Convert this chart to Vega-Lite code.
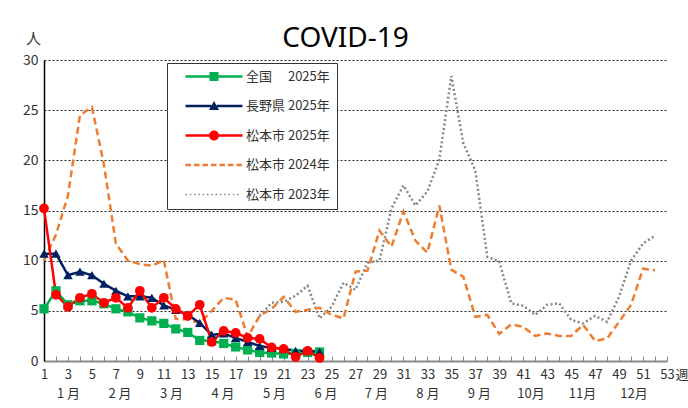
{
  "$schema": "https://vega.github.io/schema/vega-lite/v6.json",
  "width": 623,
  "height": 301,
  "autosize": {"type": "none"},
  "padding": {"left": 44, "top": 60, "right": 21, "bottom": 47},
  "background": "white",
  "title": {"text": "COVID-19", "fontSize": 28, "font": "Noto Sans", "fontWeight": "normal", "color": "#000", "anchor": "middle", "baseline": "alphabetic", "offset": 14, "dy": 58, "dx": -10},
  "datasets": {
    "covid": [
      {"series": "松本市 2023年", "week": 19, "value": 4.5},
      {"series": "松本市 2023年", "week": 20, "value": 5.8},
      {"series": "松本市 2023年", "week": 21, "value": 5.9},
      {"series": "松本市 2023年", "week": 22, "value": 6.5},
      {"series": "松本市 2023年", "week": 23, "value": 7.5},
      {"series": "松本市 2023年", "week": 24, "value": 4.25},
      {"series": "松本市 2023年", "week": 25, "value": 5.4},
      {"series": "松本市 2023年", "week": 26, "value": 7.8},
      {"series": "松本市 2023年", "week": 27, "value": 7.1},
      {"series": "松本市 2023年", "week": 28, "value": 9.8},
      {"series": "松本市 2023年", "week": 29, "value": 10.0},
      {"series": "松本市 2023年", "week": 30, "value": 15.2},
      {"series": "松本市 2023年", "week": 31, "value": 17.5},
      {"series": "松本市 2023年", "week": 32, "value": 15.5},
      {"series": "松本市 2023年", "week": 33, "value": 16.9},
      {"series": "松本市 2023年", "week": 34, "value": 20.1},
      {"series": "松本市 2023年", "week": 35, "value": 28.4},
      {"series": "松本市 2023年", "week": 36, "value": 21.7},
      {"series": "松本市 2023年", "week": 37, "value": 19.0},
      {"series": "松本市 2023年", "week": 38, "value": 10.4},
      {"series": "松本市 2023年", "week": 39, "value": 9.9},
      {"series": "松本市 2023年", "week": 40, "value": 5.75},
      {"series": "松本市 2023年", "week": 41, "value": 5.5},
      {"series": "松本市 2023年", "week": 42, "value": 4.6},
      {"series": "松本市 2023年", "week": 43, "value": 5.6},
      {"series": "松本市 2023年", "week": 44, "value": 5.75},
      {"series": "松本市 2023年", "week": 45, "value": 4.1},
      {"series": "松本市 2023年", "week": 46, "value": 3.75},
      {"series": "松本市 2023年", "week": 47, "value": 4.5},
      {"series": "松本市 2023年", "week": 48, "value": 3.9},
      {"series": "松本市 2023年", "week": 49, "value": 6.4},
      {"series": "松本市 2023年", "week": 50, "value": 10.0},
      {"series": "松本市 2023年", "week": 51, "value": 11.7},
      {"series": "松本市 2023年", "week": 52, "value": 12.5},
      {"series": "松本市 2024年", "week": 1, "value": 10.0},
      {"series": "松本市 2024年", "week": 2, "value": 12.6},
      {"series": "松本市 2024年", "week": 3, "value": 16.5},
      {"series": "松本市 2024年", "week": 4, "value": 24.5},
      {"series": "松本市 2024年", "week": 5, "value": 25.3},
      {"series": "松本市 2024年", "week": 6, "value": 19.6},
      {"series": "松本市 2024年", "week": 7, "value": 11.7},
      {"series": "松本市 2024年", "week": 8, "value": 10.0},
      {"series": "松本市 2024年", "week": 9, "value": 9.65},
      {"series": "松本市 2024年", "week": 10, "value": 9.5},
      {"series": "松本市 2024年", "week": 11, "value": 10.05},
      {"series": "松本市 2024年", "week": 12, "value": 4.2},
      {"series": "松本市 2024年", "week": 13, "value": 4.15},
      {"series": "松本市 2024年", "week": 14, "value": 3.75},
      {"series": "松本市 2024年", "week": 15, "value": 5.0},
      {"series": "松本市 2024年", "week": 16, "value": 6.3},
      {"series": "松本市 2024年", "week": 17, "value": 6.1},
      {"series": "松本市 2024年", "week": 18, "value": 2.4},
      {"series": "松本市 2024年", "week": 19, "value": 4.5},
      {"series": "松本市 2024年", "week": 20, "value": 5.2},
      {"series": "松本市 2024年", "week": 21, "value": 6.4},
      {"series": "松本市 2024年", "week": 22, "value": 4.9},
      {"series": "松本市 2024年", "week": 23, "value": 5.1},
      {"series": "松本市 2024年", "week": 24, "value": 5.3},
      {"series": "松本市 2024年", "week": 25, "value": 4.6},
      {"series": "松本市 2024年", "week": 26, "value": 4.25},
      {"series": "松本市 2024年", "week": 27, "value": 8.9},
      {"series": "松本市 2024年", "week": 28, "value": 9.0},
      {"series": "松本市 2024年", "week": 29, "value": 13.0},
      {"series": "松本市 2024年", "week": 30, "value": 11.4},
      {"series": "松本市 2024年", "week": 31, "value": 14.9},
      {"series": "松本市 2024年", "week": 32, "value": 12.0},
      {"series": "松本市 2024年", "week": 33, "value": 10.8},
      {"series": "松本市 2024年", "week": 34, "value": 15.5},
      {"series": "松本市 2024年", "week": 35, "value": 9.1},
      {"series": "松本市 2024年", "week": 36, "value": 8.4},
      {"series": "松本市 2024年", "week": 37, "value": 4.4},
      {"series": "松本市 2024年", "week": 38, "value": 4.6},
      {"series": "松本市 2024年", "week": 39, "value": 2.7},
      {"series": "松本市 2024年", "week": 40, "value": 3.65},
      {"series": "松本市 2024年", "week": 41, "value": 3.4},
      {"series": "松本市 2024年", "week": 42, "value": 2.5},
      {"series": "松本市 2024年", "week": 43, "value": 2.75},
      {"series": "松本市 2024年", "week": 44, "value": 2.5},
      {"series": "松本市 2024年", "week": 45, "value": 2.5},
      {"series": "松本市 2024年", "week": 46, "value": 3.6},
      {"series": "松本市 2024年", "week": 47, "value": 2.0},
      {"series": "松本市 2024年", "week": 48, "value": 2.25},
      {"series": "松本市 2024年", "week": 49, "value": 3.9},
      {"series": "松本市 2024年", "week": 50, "value": 5.6},
      {"series": "松本市 2024年", "week": 51, "value": 9.2},
      {"series": "松本市 2024年", "week": 52, "value": 9.05},
      {"series": "全国　 2025年", "week": 1, "value": 5.2},
      {"series": "全国　 2025年", "week": 2, "value": 7.0},
      {"series": "全国　 2025年", "week": 3, "value": 5.6},
      {"series": "全国　 2025年", "week": 4, "value": 6.0},
      {"series": "全国　 2025年", "week": 5, "value": 6.0},
      {"series": "全国　 2025年", "week": 6, "value": 5.7},
      {"series": "全国　 2025年", "week": 7, "value": 5.2},
      {"series": "全国　 2025年", "week": 8, "value": 4.9},
      {"series": "全国　 2025年", "week": 9, "value": 4.3},
      {"series": "全国　 2025年", "week": 10, "value": 4.0},
      {"series": "全国　 2025年", "week": 11, "value": 3.75},
      {"series": "全国　 2025年", "week": 12, "value": 3.2},
      {"series": "全国　 2025年", "week": 13, "value": 2.85},
      {"series": "全国　 2025年", "week": 14, "value": 2.05},
      {"series": "全国　 2025年", "week": 15, "value": 2.0},
      {"series": "全国　 2025年", "week": 16, "value": 1.75},
      {"series": "全国　 2025年", "week": 17, "value": 1.4},
      {"series": "全国　 2025年", "week": 18, "value": 1.1},
      {"series": "全国　 2025年", "week": 19, "value": 0.85},
      {"series": "全国　 2025年", "week": 20, "value": 0.8},
      {"series": "全国　 2025年", "week": 21, "value": 0.7},
      {"series": "全国　 2025年", "week": 22, "value": 0.75},
      {"series": "全国　 2025年", "week": 23, "value": 0.85},
      {"series": "全国　 2025年", "week": 24, "value": 0.9},
      {"series": "長野県 2025年", "week": 1, "value": 10.7},
      {"series": "長野県 2025年", "week": 2, "value": 10.7},
      {"series": "長野県 2025年", "week": 3, "value": 8.55},
      {"series": "長野県 2025年", "week": 4, "value": 8.9},
      {"series": "長野県 2025年", "week": 5, "value": 8.55},
      {"series": "長野県 2025年", "week": 6, "value": 7.7},
      {"series": "長野県 2025年", "week": 7, "value": 7.0},
      {"series": "長野県 2025年", "week": 8, "value": 6.45},
      {"series": "長野県 2025年", "week": 9, "value": 6.45},
      {"series": "長野県 2025年", "week": 10, "value": 6.3},
      {"series": "長野県 2025年", "week": 11, "value": 5.55},
      {"series": "長野県 2025年", "week": 12, "value": 5.1},
      {"series": "長野県 2025年", "week": 13, "value": 4.6},
      {"series": "長野県 2025年", "week": 14, "value": 3.8},
      {"series": "長野県 2025年", "week": 15, "value": 2.6},
      {"series": "長野県 2025年", "week": 16, "value": 2.75},
      {"series": "長野県 2025年", "week": 17, "value": 2.3},
      {"series": "長野県 2025年", "week": 18, "value": 1.9},
      {"series": "長野県 2025年", "week": 19, "value": 1.5},
      {"series": "長野県 2025年", "week": 20, "value": 1.3},
      {"series": "長野県 2025年", "week": 21, "value": 1.25},
      {"series": "長野県 2025年", "week": 22, "value": 1.0},
      {"series": "長野県 2025年", "week": 23, "value": 1.05},
      {"series": "長野県 2025年", "week": 24, "value": 0.9},
      {"series": "松本市 2025年", "week": 1, "value": 15.2},
      {"series": "松本市 2025年", "week": 2, "value": 6.6},
      {"series": "松本市 2025年", "week": 3, "value": 5.4},
      {"series": "松本市 2025年", "week": 4, "value": 6.3},
      {"series": "松本市 2025年", "week": 5, "value": 6.7},
      {"series": "松本市 2025年", "week": 6, "value": 5.8},
      {"series": "松本市 2025年", "week": 7, "value": 6.3},
      {"series": "松本市 2025年", "week": 8, "value": 5.3},
      {"series": "松本市 2025年", "week": 9, "value": 7.0},
      {"series": "松本市 2025年", "week": 10, "value": 5.3},
      {"series": "松本市 2025年", "week": 11, "value": 6.3},
      {"series": "松本市 2025年", "week": 12, "value": 5.2},
      {"series": "松本市 2025年", "week": 13, "value": 4.5},
      {"series": "松本市 2025年", "week": 14, "value": 5.6},
      {"series": "松本市 2025年", "week": 15, "value": 1.9},
      {"series": "松本市 2025年", "week": 16, "value": 3.0},
      {"series": "松本市 2025年", "week": 17, "value": 2.8},
      {"series": "松本市 2025年", "week": 18, "value": 2.3},
      {"series": "松本市 2025年", "week": 19, "value": 2.2},
      {"series": "松本市 2025年", "week": 20, "value": 1.35},
      {"series": "松本市 2025年", "week": 21, "value": 1.2},
      {"series": "松本市 2025年", "week": 22, "value": 0.4},
      {"series": "松本市 2025年", "week": 23, "value": 1.0},
      {"series": "松本市 2025年", "week": 24, "value": 0.3}
    ]
  },
  "data": {"name": "covid"},
  "layer": [
    {
      "mark": {"type": "line", "strokeWidth": 2.5, "strokeCap": "butt"},
      "encoding": {
        "x": {
          "field": "week", "type": "quantitative",
          "scale": {"domain": [1, 53], "nice": false, "zero": false},
          "axis": {
            "orient": "bottom",
            "values": [1,2,3,4,5,6,7,8,9,10,11,12,13,14,15,16,17,18,19,20,21,22,23,24,25,26,27,28,29,30,31,32,33,34,35,36,37,38,39,40,41,42,43,44,45,46,47,48,49,50,51,52,53],
            "labelExpr": "datum.value % 2 == 1 ? datum.label : ''",
            "grid": false,
            "domainColor": "#888888", "domainWidth": 2,
            "tickColor": "#888888", "tickSize": -5, "tickWidth": 1,
            "labelPadding": 12, "labelFontSize": 13, "labelColor": "#333333",
            "labelOverlap": false, "labelFlush": false,
            "title": "週", "titleX": 631, "titleY": 7, "titleAlign": "left", "titleBaseline": "top",
            "titleFontSize": 13, "titleFontWeight": "normal", "titleColor": "#333333"
          }
        },
        "y": {
          "field": "value", "type": "quantitative",
          "scale": {"domain": [0, 30], "nice": false},
          "axis": {
            "values": [0, 5, 10, 15, 20, 25, 30],
            "grid": true, "gridDash": [2, 2], "gridColor": "#000000", "gridWidth": 1, "gridOpacity": 0.85,
            "domainColor": "#000000", "domainWidth": 1.5,
            "ticks": false, "labelPadding": 6, "labelFontSize": 14, "labelColor": "#333333",
            "title": "人", "titleAngle": 0, "titleX": -11, "titleY": -17,
            "titleAlign": "center", "titleBaseline": "alphabetic",
            "titleFontSize": 15, "titleFontWeight": "normal", "titleColor": "#333333"
          }
        },
        "color": {
          "field": "series", "type": "nominal",
          "scale": {
            "domain": ["全国　 2025年", "長野県 2025年", "松本市 2025年", "松本市 2024年", "松本市 2023年"],
            "range": ["#00B050", "#002060", "#FF0000", "#ED7D31", "#888888"]
          },
          "legend": null
        },
        "strokeDash": {
          "field": "series", "type": "nominal",
          "scale": {
            "domain": ["全国　 2025年", "長野県 2025年", "松本市 2025年", "松本市 2024年", "松本市 2023年"],
            "range": [[1, 0], [1, 0], [1, 0], [7, 4], [2, 2.5]]
          },
          "legend": null
        }
      }
    },
    {
      "transform": [{"filter": {"field": "series", "oneOf": ["全国　 2025年", "長野県 2025年", "松本市 2025年"]}}],
      "mark": {"type": "point", "filled": true, "opacity": 1},
      "encoding": {
        "x": {"field": "week", "type": "quantitative", "axis": null},
        "y": {"field": "value", "type": "quantitative"},
        "color": {"field": "series", "type": "nominal", "legend": null},
        "shape": {
          "field": "series", "type": "nominal",
          "scale": {"domain": ["全国　 2025年", "長野県 2025年", "松本市 2025年"], "range": ["square", "triangle-up", "circle"]},
          "legend": null
        },
        "size": {
          "field": "series", "type": "ordinal",
          "scale": {"domain": ["全国　 2025年", "長野県 2025年", "松本市 2025年"], "range": [85, 95, 130]},
          "legend": null
        }
      }
    },
    {
      "mark": {"type": "point", "filled": true, "opacity": 0},
      "encoding": {
        "x": {
          "field": "week", "type": "quantitative",
          "axis": {
            "orient": "bottom",
            "values": [3, 7.3, 11.6, 15.9, 20.2, 24.5, 28.7, 33, 37.3, 41.6, 45.9, 50.2],
            "labelExpr": "(round((datum.value - 3) / 4.3) + 1) + (round((datum.value - 3) / 4.3) < 9 ? ' 月' : '月')",
            "domain": false, "ticks": false, "grid": false, "title": null,
            "labelPadding": 26, "labelFontSize": 13, "labelColor": "#333333",
            "labelOverlap": false, "labelFlush": false
          }
        },
        "y": {"field": "value", "type": "quantitative"},
        "color": {
          "field": "series", "type": "nominal",
          "legend": {
            "orient": "none", "legendX": 123, "legendY": 3, "title": null,
            "padding": 7, "rowPadding": 15.5, "symbolOffset": 33.5, "labelOffset": 25.5,
            "symbolSize": 100, "symbolStrokeWidth": 0, "symbolOpacity": 1,
            "labelFontSize": 13, "labelColor": "#333333", "labelLimit": 300,
            "strokeColor": "#333333", "fillColor": "white",
            "encode": {"symbols": {"update": {"opacity": {"value": 1}, "fillOpacity": {"value": 1}}}}
          }
        },
        "shape": {
          "field": "series", "type": "nominal",
          "scale": {
            "domain": ["全国　 2025年", "長野県 2025年", "松本市 2025年", "松本市 2024年", "松本市 2023年"],
            "range": [
              "M-5.7,-0.25H-0.9V0.25H-5.7Z M0.9,-0.25H5.7V0.25H0.9Z M-0.9,-0.9H0.9V0.9H-0.9Z",
              "M-5.7,-0.25H-0.55V0.25H-5.7Z M0.55,-0.25H5.7V0.25H0.55Z M0,-1L1,0.8H-1Z",
              "M-5.7,-0.25H-1V0.25H-5.7Z M1,-0.25H5.7V0.25H1Z M-1,0A1,1,0,1,1,1,0A1,1,0,1,1,-1,0Z",
              "M-5.7,-0.25H-4.6V0.25H-5.7Z M-4,-0.25H-2.9V0.25H-4Z M-2.3,-0.25H-1.2V0.25H-2.3Z M-0.6,-0.25H0.5V0.25H-0.6Z M1.1,-0.25H2.2V0.25H1.1Z M2.8,-0.25H3.9V0.25H2.8Z M4.5,-0.25H5.6V0.25H4.5Z",
              "M-5.7,-0.15H-5.4V0.15H-5.7Z M-4.84,-0.15H-4.54V0.15H-4.84Z M-3.98,-0.15H-3.68V0.15H-3.98Z M-3.12,-0.15H-2.82V0.15H-3.12Z M-2.26,-0.15H-1.96V0.15H-2.26Z M-1.4,-0.15H-1.1V0.15H-1.4Z M-0.54,-0.15H-0.24V0.15H-0.54Z M0.32,-0.15H0.62V0.15H0.32Z M1.18,-0.15H1.48V0.15H1.18Z M2.04,-0.15H2.34V0.15H2.04Z M2.9,-0.15H3.2V0.15H2.9Z M3.76,-0.15H4.06V0.15H3.76Z M4.62,-0.15H4.92V0.15H4.62Z"
            ]
          },
          "legend": {
            "orient": "none", "legendX": 123, "legendY": 3, "title": null,
            "padding": 7, "rowPadding": 15.5, "symbolOffset": 33.5, "labelOffset": 25.5,
            "symbolSize": 100, "symbolStrokeWidth": 0, "symbolOpacity": 1,
            "labelFontSize": 13, "labelColor": "#333333", "labelLimit": 300,
            "strokeColor": "#333333", "fillColor": "white",
            "encode": {"symbols": {"update": {"opacity": {"value": 1}, "fillOpacity": {"value": 1}}}}
          }
        }
      }
    }
  ],
  "resolve": {
    "scale": {"shape": "independent", "size": "independent"},
    "axis": {"x": "independent"},
    "legend": {"color": "independent", "shape": "independent", "strokeDash": "independent", "size": "independent"}
  },
  "config": {
    "font": "Noto Sans CJK JP",
    "view": {"stroke": null},
    "axis": {"labelFont": "Noto Sans CJK JP", "titleFont": "Noto Sans CJK JP"},
    "legend": {"labelFont": "Noto Sans CJK JP"}
  }
}
